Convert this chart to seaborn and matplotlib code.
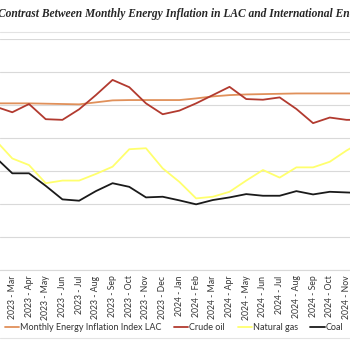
import pandas as pd
import seaborn as sns
import matplotlib.pyplot as plt
from matplotlib.lines import Line2D

sns.set_style('white')
plt.rcParams['font.family'] = ['Lato', 'DejaVu Sans']

months = ['2023 - Feb', '2023 - Mar', '2023 - Apr', '2023 - May', '2023 - Jun', '2023 - Jul',
          '2023 - Aug', '2023 - Sep', '2023 - Oct', '2023 - Nov', '2023 - Dec',
          '2024 - Jan', '2024 - Feb', '2024 - Mar', '2024 - Apr', '2024 - May', '2024 - Jun',
          '2024 - Jul', '2024 - Aug', '2024 - Sep', '2024 - Oct', '2024 - Nov', '2024 - Dec']

lac = [50.5, 50.5, 50.5, 50.4, 50.3, 50.2, 50.8, 51.4, 51.5, 51.5, 51.5, 51.5,
       52.0, 52.6, 53.0, 53.2, 53.3, 53.4, 53.5, 53.5, 53.5, 53.5, 53.5]
crude = [49.5, 47.8, 50.3, 45.7, 45.5, 48.7, 53.0, 57.6, 55.4, 50.5, 47.2, 48.3,
         50.5, 53.0, 55.5, 51.8, 51.6, 52.3, 48.8, 44.5, 46.2, 45.5, 45.5]
gas = [39.3, 33.8, 31.8, 26.3, 27.1, 27.1, 29.1, 31.3, 36.6, 36.9, 30.8, 26.7,
       21.7, 22.2, 23.7, 27.1, 30.3, 28.0, 31.1, 31.1, 32.8, 36.2, 39.1]
coal = [34.1, 29.3, 29.3, 25.5, 21.4, 21.0, 23.9, 26.3, 25.2, 22.0, 22.2, 21.1,
        19.9, 21.2, 22.0, 23.0, 22.5, 22.5, 23.9, 22.9, 23.7, 23.5, 23.3]

series = ['Monthly Energy Inflation Index LAC', 'Crude oil', 'Natural gas', 'Coal']
colors = ['#E0905A', '#B23A2F', '#FFFF6E', '#1A1A1A']

df = pd.DataFrame({'month': range(len(months)), 'Monthly Energy Inflation Index LAC': lac,
                   'Crude oil': crude, 'Natural gas': gas, 'Coal': coal})
dfl = df.melt(id_vars='month', var_name='serie', value_name='valor')

fig = plt.figure(figsize=(3.5, 3.5), dpi=100)
ax = fig.add_axes([0, 1 - 270 / 350, 1, 231 / 350])
sns.lineplot(data=dfl, x='month', y='valor', hue='serie', hue_order=series,
             palette=colors, linewidth=1.3, legend=False, ax=ax)

ax.set_xlim(0.264, 21.21)
ax.set_ylim(0, 70)
ax.set_yticks(range(0, 71, 10))
ax.set_yticklabels([])
ax.grid(axis='y', color='#d9d9d9', linewidth=0.8)
# solo las etiquetas que caen dentro del recorte
ax.set_xticks(range(1, len(months) - 1))
ax.set_xticklabels(months[1:-1], rotation=90, fontsize=6.2, color='#333333')
ax.tick_params(axis='both', length=0, pad=4)
ax.set_xlabel('')
ax.set_ylabel('')
for s in ['top', 'left', 'right']:
    ax.spines[s].set_visible(False)
ax.spines['bottom'].set_color('#d9d9d9')
ax.spines['bottom'].set_linewidth(0.8)

fig.text(-2 / 350, 1 - 14 / 350,
         'Contrast Between Monthly Energy Inflation in LAC and International Energy Prices',
         family='Liberation Serif', fontweight='bold', style='italic', fontsize=8.3,
         ha='left', va='center')

fig.add_artist(Line2D([0, 1], [1 - 32 / 350, 1 - 32 / 350], color='#e3e3e3', linewidth=0.8))
fig.add_artist(Line2D([0, 1], [1 - 338 / 350, 1 - 338 / 350], color='#e3e3e3', linewidth=0.8))

handles = [Line2D([], [], color=c, linewidth=1.3) for c in colors]
fig.legend(handles, series, loc='center left', bbox_to_anchor=(5 / 350, 1 - 328 / 350),
           ncol=4, frameon=False, fontsize=6.45, handlelength=1.6, handletextpad=0.1,
           columnspacing=1.4, borderpad=0, borderaxespad=0, labelcolor='#333333')

plt.savefig('out.png', dpi=100)
